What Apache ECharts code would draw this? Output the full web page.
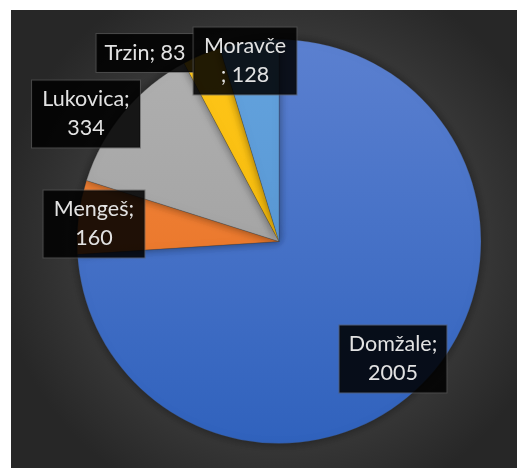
<!DOCTYPE html>
<html>
<head>
<meta charset="utf-8">
<script src="https://cdn.jsdelivr.net/npm/echarts@6/dist/echarts.min.js"></script>
<style>
	html, body { margin: 0; padding: 0; background: #fff; }
	#main { position: absolute; left: 11px; top: 10px; width: 506px; height: 458px; }
</style>
</head>
<body>
<div id="main"></div>
<script>
// podatki
var names = ['Domžale', 'Mengeš', 'Lukovica', 'Trzin', 'Moravče'];
var values = [2005, 160, 334, 83, 128];
var labelTexts = ['Domžale;\n2005', 'Mengeš;\n160', 'Lukovica;\n334', 'Trzin; 83', 'Moravče\n; 128'];

// barve (zgoraj svetlejše, spodaj temnejše)
var colorsTop = ['#5b80d0', '#f5883e', '#b0b0b0', '#ffc61a', '#64a3de'];
var colorsBottom = ['#3062bd', '#e26c1f', '#9a9a9a', '#f0b400', '#4f8fcc'];

// položaji oznak (središče okvirja) in širine
var labelPos = [[382, 349], [83, 214], [75, 104], [134, 43], [234, 51]];
var labelWidth = [107, 101, 108, 97, 103];

var myChart = echarts.init(document.getElementById('main'));

var pieData = [];
for (var i = 0; i < names.length; i++) {
	pieData.push({
		name: names[i],
		value: values[i],
		itemStyle: {
			color: new echarts.graphic.LinearGradient(0, 30, 0, 434, [
				{ offset: 0, color: colorsTop[i] },
				{ offset: 1, color: colorsBottom[i] }
			], true)
		},
		label: {
			formatter: labelTexts[i],
			width: labelWidth[i] - 2
		}
	});
}

var option = {
	backgroundColor: new echarts.graphic.RadialGradient(0.53, 0.5, 0.62, [
		{ offset: 0, color: '#4e4e4e' },
		{ offset: 0.55, color: '#404040' },
		{ offset: 1, color: '#272727' }
	]),
	animation: false,
	series: [{
		type: 'pie',
		center: [268, 231.5],
		radius: [0, 202],
		startAngle: 90,
		clockwise: true,
		itemStyle: {
			borderColor: 'rgba(60,60,60,0.5)',
			borderWidth: 0.5,
			shadowBlur: 10,
			shadowColor: 'rgba(0,0,0,0.45)'
		},
		emphasis: { disabled: true },
		labelLine: { show: false },
		label: {
			show: true,
			position: 'inside',
			color: '#e2e2e2',
			fontFamily: 'Lato',
			fontSize: 21.5,
			lineHeight: 29,
			align: 'center',
			backgroundColor: 'rgba(0,0,0,0.87)',
			borderColor: 'rgba(90,90,90,0.6)',
			borderWidth: 1,
			padding: [5, 1, 4, 1]
		},
		labelLayout: function(params) {
			var p = labelPos[params.dataIndex];
			return {
				x: p[0],
				y: p[1],
				align: 'center',
				verticalAlign: 'middle',
				hideOverlap: false
			};
		},
		data: pieData
	}]
};
myChart.setOption(option);
</script>
</body>
</html>
